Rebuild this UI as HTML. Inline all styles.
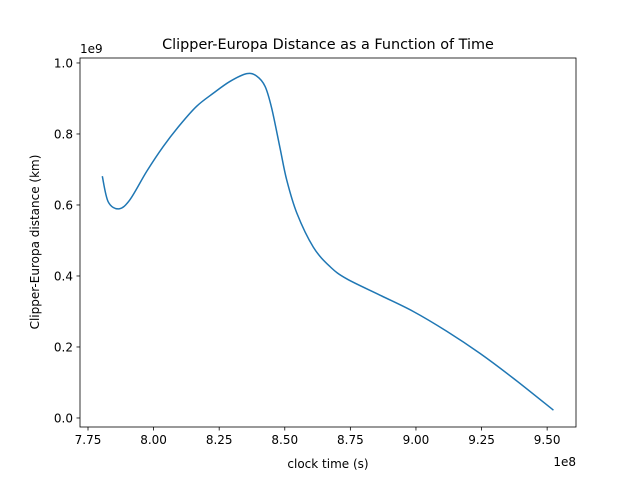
<!DOCTYPE html>
<html><head><meta charset="utf-8"><style>
body{margin:0;background:#fff;}
svg text{font-family:"DejaVu Sans","Liberation Sans",sans-serif;fill:#000;}
</style></head><body>
<svg id="chart" width="640" height="480" viewBox="0 0 640 480">
<rect x="0" y="0" width="640" height="480" fill="#fff"/>
<text x="328" y="49" font-size="14.4" text-anchor="middle">Clipper-Europa Distance as a Function of Time</text>
<g id="plot"></g>
<text x="328" y="468" font-size="12" text-anchor="middle">clock time (s)</text>
<text transform="translate(39,242) rotate(-90)" font-size="12" text-anchor="middle">Clipper-Europa distance (km)</text>
<text x="576" y="466" font-size="12" text-anchor="end">1e8</text>
<text x="80" y="53" font-size="12">1e9</text>
</svg>
<script>
const xs=[7.8045,7.827,7.868,7.910,7.974,8.037,8.101,8.164,8.228,8.291,8.355,8.393,8.425,8.450,8.482,8.5075,8.546,8.609,8.673,8.736,8.863,8.990,9.118,9.244,9.371,9.524];
const ys=[0.681,0.609,0.589,0.615,0.695,0.765,0.826,0.878,0.915,0.948,0.970,0.963,0.934,0.873,0.760,0.670,0.577,0.481,0.426,0.392,0.346,0.300,0.244,0.182,0.112,0.022];
const xTicks=[7.75,8.00,8.25,8.50,8.75,9.00,9.25,9.50];
const yTicks=[0.0,0.2,0.4,0.6,0.8,1.0];
const L=80,R=576,T=58,B=427;
const X0=7.7195,X1=9.610,Y0=-0.0254,Y1=1.014;
const sx=v=>L+(v-X0)/(X1-X0)*(R-L);
const sy=v=>B-(v-Y0)/(Y1-Y0)*(B-T);
const g=document.getElementById('plot');
const NS='http://www.w3.org/2000/svg';
function mk(t,a){const e=document.createElementNS(NS,t);for(const k in a)e.setAttribute(k,a[k]);g.appendChild(e);return e;}
xTicks.forEach(v=>{
 const l=mk('line',{x1:sx(v),x2:sx(v),y1:B,y2:B+3.5,stroke:'#000','stroke-width':0.8});
 
 
 const t=mk('text',{x:sx(v),y:B+17,'font-size':12,'text-anchor':'middle'});t.textContent=v.toFixed(2);
 
 
});
yTicks.forEach(v=>{
 const l=mk('line',{x1:L-3.5,x2:L,y1:sy(v),y2:sy(v),stroke:'#000','stroke-width':0.8});
 
 
 const t=mk('text',{x:L-7,y:sy(v)+4.5,'font-size':12,'text-anchor':'end'});t.textContent=v.toFixed(1);
 
 
});
const P=xs.map((x,i)=>[sx(x),sy(ys[i])]);
let d='M'+P[0][0]+','+P[0][1];
for(let i=0;i<P.length-1;i++){
 const p0=P[Math.max(0,i-1)],p1=P[i],p2=P[i+1],p3=P[Math.min(P.length-1,i+2)];
 const c1=[p1[0]+(p2[0]-p0[0])/6,p1[1]+(p2[1]-p0[1])/6];
 const c2=[p2[0]-(p3[0]-p1[0])/6,p2[1]-(p3[1]-p1[1])/6];
 d+=' C'+c1+' '+c2+' '+p2;
}
const path=mk('path',{d:d,fill:'none',stroke:'#1f77b4','stroke-width':1.5});


const fr=mk('rect',{x:L,y:T,width:R-L,height:B-T,fill:'none',stroke:'#000','stroke-width':0.8});


</script>
</body></html>
